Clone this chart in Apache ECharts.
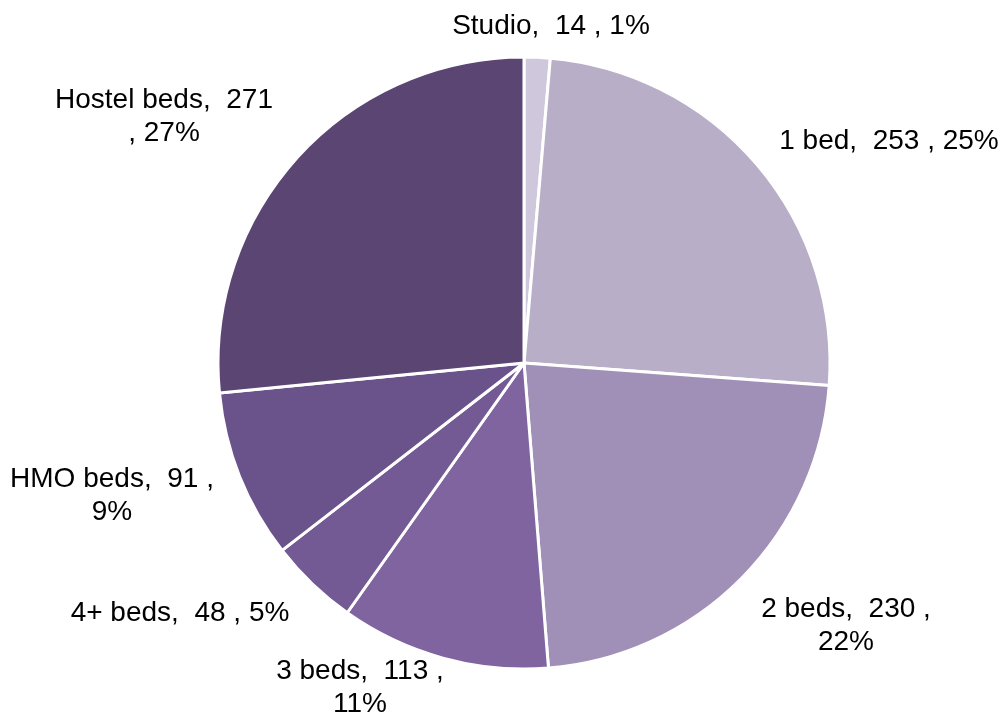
<!DOCTYPE html>
<html>
<head>
<meta charset="utf-8">
<script src="https://cdn.jsdelivr.net/npm/echarts@6/dist/echarts.min.js"></script>
<style>
  html, body { margin: 0; padding: 0; background: #ffffff; }
  #chart { width: 1000px; height: 713px; }
</style>
</head>
<body>
<div id="chart"></div>
<script>
// Dwelling sizes: count of units and share of the total
const categories = ['Studio', '1 bed', '2 beds', '3 beds', '4+ beds', 'HMO beds', 'Hostel beds'];
const counts = [14, 253, 230, 113, 48, 91, 271];
const shares = [1, 25, 22, 11, 5, 9, 27];

const sliceColors = ['#cfc7db', '#b8aec8', '#a08fb7', '#7f64a0', '#735a94', '#6a528a', '#5b4572'];

// Where each label wraps: 'pct' = before the percentage, 'comma' = before ", pct", null = one line
const wrapStyle = [null, null, 'pct', 'pct', null, 'pct', 'comma'];
// Label anchor points (centre of text block)
const labelSpots = [
  [551, 26], [889, 141], [846, 626], [360, 688], [180, 613], [112, 496], [164, 117]
];

function labelText(i) {
  const head = categories[i] + ',  ' + counts[i];
  const pct = shares[i] + '%';
  if (wrapStyle[i] === 'pct') return head + ' ,\n' + pct;
  if (wrapStyle[i] === 'comma') return head + '\n, ' + pct;
  return head + ' , ' + pct;
}

const chart = echarts.init(document.getElementById('chart'), null, { renderer: 'canvas' });
chart.setOption({
  animation: false,
  series: [{
    type: 'pie',
    center: [524, 363],
    radius: [0, 306],
    startAngle: 90,
    clockwise: true,
    data: categories.map((c, i) => ({
      name: c,
      value: counts[i],
      itemStyle: { color: sliceColors[i] }
    })),
    itemStyle: { borderColor: '#ffffff', borderWidth: 3 },
    label: {
      show: true,
      position: 'outside',
      formatter: p => labelText(p.dataIndex),
      fontFamily: 'Liberation Sans, Arial, sans-serif',
      fontSize: 28,
      lineHeight: 33,
      color: '#000000',
      align: 'center',
      overflow: 'none'
    },
    labelLine: { show: false },
    labelLayout: p => ({
      x: labelSpots[p.dataIndex][0],
      y: labelSpots[p.dataIndex][1],
      align: 'center',
      verticalAlign: 'middle',
      hideOverlap: false
    }),
    emphasis: { disabled: true }
  }]
});
</script>
</body>
</html>
